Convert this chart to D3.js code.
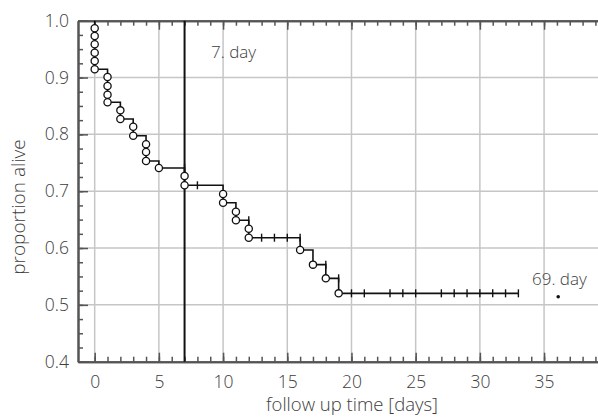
<!DOCTYPE html>
<html>
<head>
<meta charset="utf-8">
<script src="https://cdn.jsdelivr.net/npm/d3@7"></script>
<style>
  body { margin: 0; background: #fff; }
  text { font-family: "Open Sans", Lato, sans-serif; font-weight: 300; fill: #3d3d3d; }
</style>
</head>
<body>
<script>
// step curve: times where level changes, and survival level after that time
var stepTimes  = [0, 1, 2, 3, 4, 5, 7, 10, 11, 12, 16, 17, 18, 19, 33];
var stepLevels = [0.9145, 0.8564, 0.8270, 0.7976, 0.7531, 0.7408, 0.7104, 0.6797, 0.6488, 0.6182, 0.5965, 0.5708, 0.5467, 0.5203, 0.5203];

// events (circles)
var eventTimes  = [0, 0, 0, 0, 0, 0, 1, 1, 1, 1, 2, 2, 3, 3, 4, 4, 4, 5, 7, 7, 10, 10, 11, 11, 12, 12, 16, 17, 18, 19];
var eventLevels = [0.9866, 0.9731, 0.9585, 0.9437, 0.9291, 0.9145, 0.9009, 0.8851, 0.8698, 0.8564,
                   0.8423, 0.8270, 0.8135, 0.7976, 0.7825, 0.7690, 0.7531, 0.7408, 0.7267, 0.7104,
                   0.6951, 0.6797, 0.6639, 0.6488, 0.6340, 0.6182, 0.5965, 0.5708, 0.5467, 0.5203];

// censored (+ marks)
var censorTimes  = [7, 8, 12, 13, 14, 15, 16, 18, 19, 20, 21, 23, 24, 25, 27, 28, 29, 30, 31, 32, 33];
var censorLevels = [0.7408, 0.7104, 0.6488, 0.6182, 0.6182, 0.6182, 0.6182, 0.5708, 0.5467,
                    0.5203, 0.5203, 0.5203, 0.5203, 0.5203, 0.5203, 0.5203, 0.5203, 0.5203, 0.5203, 0.5203, 0.5203];

var markerDay = 7;
var dotPoint = [36.1, 0.5143];
var xTicks = [0, 5, 10, 15, 20, 25, 30, 35];
var yTicks = [0.4, 0.5, 0.6, 0.7, 0.8, 0.9, 1.0];

var width = 598, height = 418;
var pL = 78, pR = 598, pT = 20.7, pB = 361.7;

var svg = d3.select("body").append("svg")
  .attr("width", width)
  .attr("height", height);

var x = d3.scaleLinear().domain([-1.3, 39.2]).range([pL, pR]);
var y = d3.scaleLinear().domain([0.4, 1.0]).range([pB, pT]);

// grid
svg.append("g").selectAll("line")
  .data(xTicks)
  .enter().append("line")
    .attr("x1", function(d) { return x(d); })
    .attr("x2", function(d) { return x(d); })
    .attr("y1", pT).attr("y2", pB)
    .attr("stroke", "#c6c6c6").attr("stroke-width", 1.5);

svg.append("g").selectAll("line")
  .data(yTicks.slice(1, -1))
  .enter().append("line")
    .attr("y1", function(d) { return y(d); })
    .attr("y2", function(d) { return y(d); })
    .attr("x1", pL).attr("x2", pR)
    .attr("stroke", "#c6c6c6").attr("stroke-width", 1.5);

// axes
var minorX = d3.range(0, 40);
var minorY = d3.range(0, 25).map(function(i) { return 0.4 + i * 0.025; });

function styleAxis(g) {
  g.selectAll("path.domain").attr("stroke", "#555").attr("stroke-width", 2);
  g.selectAll(".tick line").attr("stroke", "#555").attr("stroke-width", 1.5);
  g.selectAll("text").attr("fill", "#3d3d3d").style("font-size", "17.5px");
}

var gx = svg.append("g").attr("transform", "translate(0," + pB + ")");
gx.call(d3.axisBottom(x).tickValues(minorX).tickSizeInner(-5).tickSizeOuter(0).tickFormat(""));
var gxMaj = svg.append("g").attr("transform", "translate(0," + pB + ")");
gxMaj.call(d3.axisBottom(x).tickValues(xTicks).tickSizeInner(-9).tickSizeOuter(0).tickPadding(14).tickFormat(d3.format("d")));
styleAxis(gx); styleAxis(gxMaj);

var gt = svg.append("g").attr("transform", "translate(0," + pT + ")");
gt.call(d3.axisTop(x).tickValues(minorX).tickSizeInner(-5).tickSizeOuter(0).tickFormat(""));
var gtMaj = svg.append("g").attr("transform", "translate(0," + pT + ")");
gtMaj.call(d3.axisTop(x).tickValues(xTicks).tickSizeInner(-9).tickSizeOuter(0).tickFormat(""));
styleAxis(gt); styleAxis(gtMaj);

var gy = svg.append("g").attr("transform", "translate(" + pL + ",0)");
gy.call(d3.axisLeft(y).tickValues(minorY).tickSizeInner(-5).tickSizeOuter(0).tickFormat(""));
var gyMaj = svg.append("g").attr("transform", "translate(" + pL + ",0)");
gyMaj.call(d3.axisLeft(y).tickValues(yTicks).tickSizeInner(-10).tickSizeOuter(0).tickFormat(d3.format(".1f")));
styleAxis(gy); styleAxis(gyMaj);
gyMaj.selectAll("text").attr("x", -9);

// axis titles
svg.append("text")
  .attr("x", 352).attr("y", 411)
  .attr("text-anchor", "middle")
  .style("font-size", "18.5px")
  .text("follow up time [days]");

svg.append("text")
  .attr("transform", "translate(25," + 207 + ") rotate(-90)")
  .attr("text-anchor", "middle")
  .style("font-size", "19px")
  .text("proportion alive");

// 7. day marker line
svg.append("line")
  .attr("x1", x(markerDay)).attr("x2", x(markerDay))
  .attr("y1", pT).attr("y2", pB)
  .attr("stroke", "#111").attr("stroke-width", 2);

svg.append("text")
  .attr("x", 211).attr("y", 58)
  .style("font-size", "17px")
  .text("7. day");

// KM step curve
var stepData = [{t: 0, v: 1.0}].concat(stepTimes.map(function(t, i) { return {t: t, v: stepLevels[i]}; }));
var line = d3.line()
  .x(function(d) { return x(d.t); })
  .y(function(d) { return y(d.v); })
  .curve(d3.curveStepAfter);

svg.append("path")
  .datum(stepData)
  .attr("d", line)
  .attr("fill", "none")
  .attr("stroke", "#111")
  .attr("stroke-width", 1.6);

// censor marks
svg.append("g").selectAll("line")
  .data(censorTimes.map(function(t, i) { return {t: t, v: censorLevels[i]}; }))
  .enter().append("line")
    .attr("x1", function(d) { return x(d.t); })
    .attr("x2", function(d) { return x(d.t); })
    .attr("y1", function(d) { return y(d.v) - 4; })
    .attr("y2", function(d) { return y(d.v) + 4; })
    .attr("stroke", "#111").attr("stroke-width", 1.4);

// event circles
svg.append("g").selectAll("circle")
  .data(eventTimes.map(function(t, i) { return {t: t, v: eventLevels[i]}; }))
  .enter().append("circle")
    .attr("cx", function(d) { return x(d.t); })
    .attr("cy", function(d) { return y(d.v); })
    .attr("r", 3.6)
    .attr("fill", "#fff")
    .attr("stroke", "#111")
    .attr("stroke-width", 1.3);

// 69. day point
svg.append("circle")
  .attr("cx", x(dotPoint[0])).attr("cy", y(dotPoint[1]))
  .attr("r", 1.8).attr("fill", "#111");

svg.append("text")
  .attr("x", 532).attr("y", 285)
  .style("font-size", "17px")
  .text("69. day");
</script>
</body>
</html>
